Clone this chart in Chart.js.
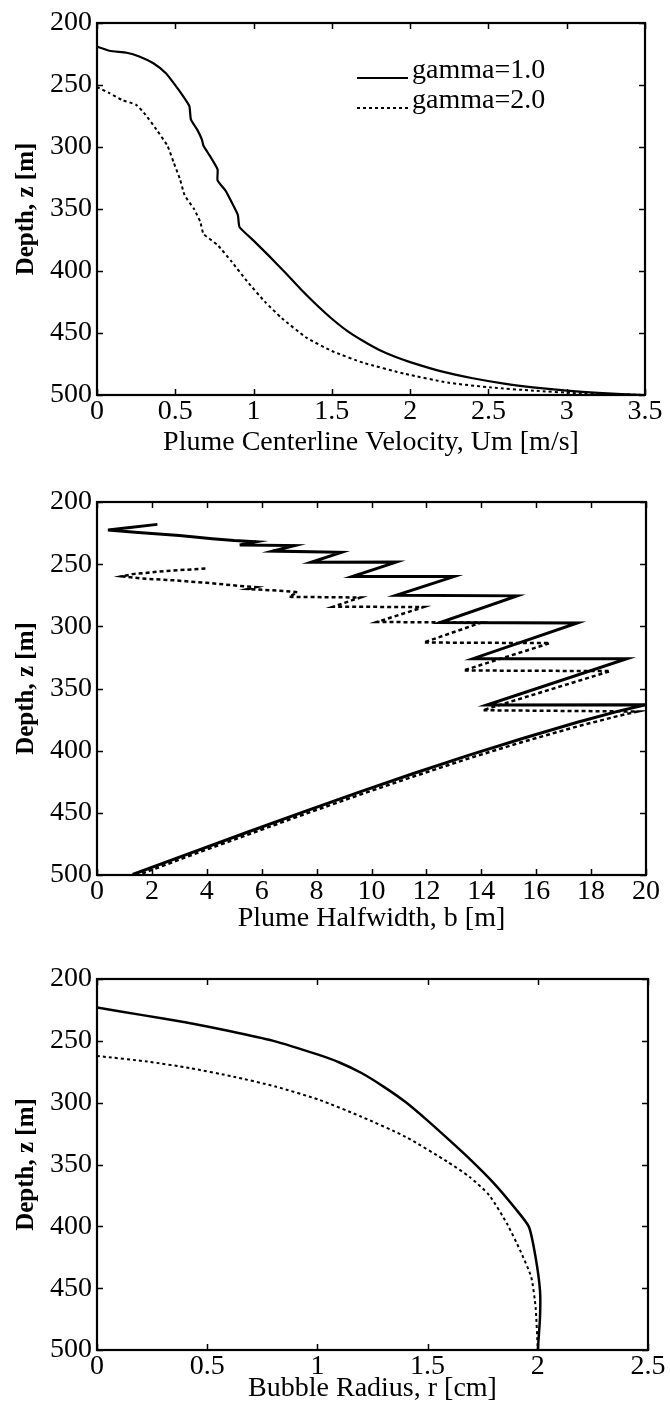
<!DOCTYPE html>
<html><head><meta charset="utf-8">
<script src="https://cdn.jsdelivr.net/npm/chart.js@4.4.1/dist/chart.umd.min.js"></script>
<style>
html,body{margin:0;padding:0;background:#fff;}
#wrap{position:relative;width:670px;height:1412px;background:#fff;}
canvas{position:absolute;left:0;}
</style></head><body>
<div id="wrap">
<canvas id="c1" width="670" height="470" style="top:0px"></canvas>
<canvas id="c2" width="670" height="470" style="top:470px"></canvas>
<canvas id="c3" width="670" height="472" style="top:940px"></canvas>
</div>
<script>
// ---------- Data ----------
const seriesLabels = ['gamma=1.0', 'gamma=2.0'];
const depthTicks = [200, 250, 300, 350, 400, 450, 500];

// Panel 1: plume centerline velocity Um [m/s] vs depth z [m]
const velDepthG1 = [219,222.4,224,227,232.5,240.5,248.5,259,267,278,286,294,299,307,318,327,335,347,355,364.5,375.5,388,401,414.5,427,438.5,448.5,456.5,463.5,469,473.5,481,486.5,490.8,494,496.5,498.3,500];
const velG1      = [0,0.08,0.19,0.27,0.36,0.44,0.49,0.55,0.59,0.60,0.64,0.67,0.68,0.72,0.77,0.77,0.82,0.87,0.90,0.91,1.0,1.1,1.2,1.3,1.4,1.5,1.6,1.7,1.8,1.9,2.0,2.2,2.4,2.6,2.8,3.0,3.2,3.5];
const velDepthG2 = [251.7,256.5,262,266,274,286,299,312.5,326,339,350,360.5,370,379,392.5,408.5,424.5,438,454,464.5,474,483,490,494,496.5,498.5,500];
const velG2      = [0,0.08,0.16,0.25,0.31,0.38,0.45,0.49,0.53,0.56,0.62,0.66,0.68,0.77,0.86,0.96,1.07,1.18,1.34,1.50,1.70,1.97,2.24,2.52,2.79,3.06,3.5];
const velTicks   = [0,0.5,1,1.5,2,2.5,3,3.5];

// Panel 2: plume halfwidth b [m] vs depth
const hwDepthG1 = [218,220.5,222.5,224.5,227,229.5,231,232,234.5,235,239.5,240.5,248.5,248.3,260,260,275,275.5,297,297.3,326,326,363.3,363,368.2,377.2,390.2,404,418.6,433.8,449.4,465.4,481.6,499.6];
const hwG1      = [2.2,1.2,0.4,1.5,3.0,4.2,5.0,5.8,5.2,7.2,6.4,8.9,7.8,10.9,9.3,13.0,10.9,15.3,12.5,17.5,13.7,19.3,14.2,20.0,19.0,17.5,15.5,13.5,11.5,9.5,7.5,5.5,3.5,1.3];
const hwDepthG2 = [253.5,255.5,258,259.8,261.5,263,265,267.5,268.5,270,271.5,272.5,276.3,276.8,284.2,284.5,296.5,297,313,313.5,335.5,336,367.5,368.5,372,380.5,393,406.5,421,436,451.5,467.5,483.5,500];
const hwG2      = [3.95,2.5,1.3,0.9,1.6,2.8,4.0,5.2,5.8,5.5,6.8,7.3,7.0,9.6,8.6,11.9,10.2,14.0,11.9,16.5,13.35,18.7,14.05,19.7,19.0,17.5,15.5,13.5,11.5,9.5,7.5,5.5,3.5,1.5];
const hwTicks   = [0,2,4,6,8,10,12,14,16,18,20];

// Panel 3: bubble radius r [cm] vs depth
const brDepthG1 = [223,229,235,242,250,261,267.5,276,287,299.5,314.5,330.5,347,365,386,400.5,425,452,473.5,500];
const brG1      = [0,0.2,0.4,0.6,0.8,1.0,1.1,1.2,1.3,1.4,1.5,1.6,1.7,1.8,1.9,1.96,1.99,2.01,2.01,2.0];
const brDepthG2 = [262.2,266.8,272,279,287,297.8,311.4,327.6,347.8,360,374.9,397.8,419.5,441,465.4,500];
const brG2      = [0,0.23,0.42,0.62,0.81,1.01,1.20,1.40,1.59,1.69,1.78,1.86,1.92,1.97,1.99,2.0];
const brTicks   = [0,0.5,1,1.5,2,2.5];

// ---------- Helpers ----------
const FONT = "'Liberation Serif', 'Times New Roman', Times, serif";
Chart.defaults.font.family = FONT;
Chart.defaults.color = '#000';

function pts(xs, ys) { return xs.map((v, i) => ({x: v, y: ys[i]})); }

const framePlugin = {
  id: 'frame',
  afterDraw(chart) {
    const {ctx, chartArea: a, scales} = chart;
    const tl = 6;
    ctx.save();
    ctx.strokeStyle = '#000';
    ctx.lineWidth = 1.5;
    ctx.beginPath();
    scales.x.ticks.forEach(t => {
      const px = Math.round(scales.x.getPixelForValue(t.value)) + 0.5;
      ctx.moveTo(px, a.bottom); ctx.lineTo(px, a.bottom - tl);
      ctx.moveTo(px, a.top); ctx.lineTo(px, a.top + tl);
    });
    scales.y.ticks.forEach(t => {
      const py = Math.round(scales.y.getPixelForValue(t.value)) + 0.5;
      ctx.moveTo(a.left, py); ctx.lineTo(a.left + tl, py);
      ctx.moveTo(a.right, py); ctx.lineTo(a.right - tl, py);
    });
    ctx.stroke();
    ctx.lineWidth = 2.2;
    ctx.strokeRect(a.left, a.top, a.right - a.left, a.bottom - a.top);
    // in-plot legend
    const lg = chart.options.plugins.inlineLegend;
    if (lg && lg.show) {
      ctx.font = lg.size + 'px ' + FONT;
      ctx.fillStyle = '#000';
      ctx.textBaseline = 'alphabetic';
      ctx.textAlign = 'left';
      chart.data.datasets.forEach((ds, i) => {
        const y = lg.y + i * lg.dy;
        ctx.save();
        ctx.lineWidth = ds.borderWidth;
        ctx.setLineDash(ds.borderDash || []);
        ctx.beginPath();
        ctx.moveTo(lg.x, y); ctx.lineTo(lg.x + lg.len, y);
        ctx.stroke();
        ctx.restore();
        ctx.fillText(ds.label, lg.x + lg.len + lg.gap, y);
      });
    }
    ctx.restore();
  }
};

function makeChart(id, cfg) {
  const tickFont = {size: 28, family: FONT};
  return new Chart(document.getElementById(id), {
    type: 'scatter',
    data: {
      datasets: [
        {label: seriesLabels[0], data: pts(cfg.g1x, cfg.g1y), showLine: true, borderColor: '#000', backgroundColor: '#000',
         borderWidth: cfg.w1, pointRadius: 0, tension: cfg.tension},
        {label: seriesLabels[1], data: pts(cfg.g2x, cfg.g2y), showLine: true, borderColor: '#000', backgroundColor: '#000',
         borderWidth: cfg.w2, borderDash: cfg.dash, pointRadius: 0, tension: cfg.tension}
      ]
    },
    options: {
      responsive: false,
      animation: false,
      events: [],
      layout: {padding: {top: cfg.padTop, right: cfg.padRight, left: 0, bottom: 0}},
      plugins: {
        legend: {display: false},
        tooltip: {enabled: false},
        inlineLegend: cfg.legend || {show: false}
      },
      scales: {
        x: {
          type: 'linear', position: 'bottom',
          min: cfg.xTicks[0], max: cfg.xTicks[cfg.xTicks.length - 1],
          afterBuildTicks: s => { s.ticks = cfg.xTicks.map(v => ({value: v})); },
          afterFit: s => { s.height = cfg.xScaleH; },
          grid: {display: false, drawTicks: false},
          border: {display: false},
          ticks: {font: tickFont, color: '#000', padding: cfg.xTickPad, maxRotation: 0, autoSkip: false,
                  callback: v => String(+(+v).toFixed(2))},
          title: {display: true, text: cfg.xTitle, color: '#000', font: {size: 28, family: FONT},
                  padding: {top: 0, bottom: cfg.xTitlePad}}
        },
        y: {
          type: 'linear', position: 'left', reverse: true,
          min: 200, max: 500,
          afterBuildTicks: s => { s.ticks = depthTicks.map(v => ({value: v})); },
          afterFit: s => { s.width = 97; },
          grid: {display: false, drawTicks: false},
          border: {display: false},
          ticks: {font: tickFont, color: '#000', padding: 5, autoSkip: false,
                  callback: v => String(v)},
          title: {display: true, text: 'Depth, z [m]', color: '#000',
                  font: {size: 25, weight: 'bold', family: FONT}, padding: {top: 12, bottom: 0}}
        }
      }
    },
    plugins: [framePlugin]
  });
}

makeChart('c1', {
  g1x: velG1, g1y: velDepthG1, g2x: velG2, g2y: velDepthG2,
  w1: 2.2, w2: 2, dash: [3, 3], tension: 0.15,
  xTicks: velTicks, xTitle: 'Plume Centerline Velocity, Um [m/s]',
  padTop: 23, padRight: 25, xScaleH: 75, xTickPad: 0, xTitlePad: 11,
  legend: {show: true, x: 357, y: 78, dy: 30, len: 51, gap: 4, size: 28}
});

makeChart('c2', {
  g1x: hwG1, g1y: hwDepthG1, g2x: hwG2, g2y: hwDepthG2,
  w1: 3, w2: 2.5, dash: [4, 3], tension: 0,
  xTicks: hwTicks, xTitle: 'Plume Halfwidth, b [m]',
  padTop: 32, padRight: 24, xScaleH: 65, xTickPad: 0, xTitlePad: 5
});

makeChart('c3', {
  g1x: brG1, g1y: brDepthG1, g2x: brG2, g2y: brDepthG2,
  w1: 2.5, w2: 2, dash: [3, 3], tension: 0.2,
  xTicks: brTicks, xTitle: 'Bubble Radius, r [cm]',
  padTop: 39, padRight: 22, xScaleH: 62, xTickPad: 0, xTitlePad: 7
});
</script>
</body></html>
